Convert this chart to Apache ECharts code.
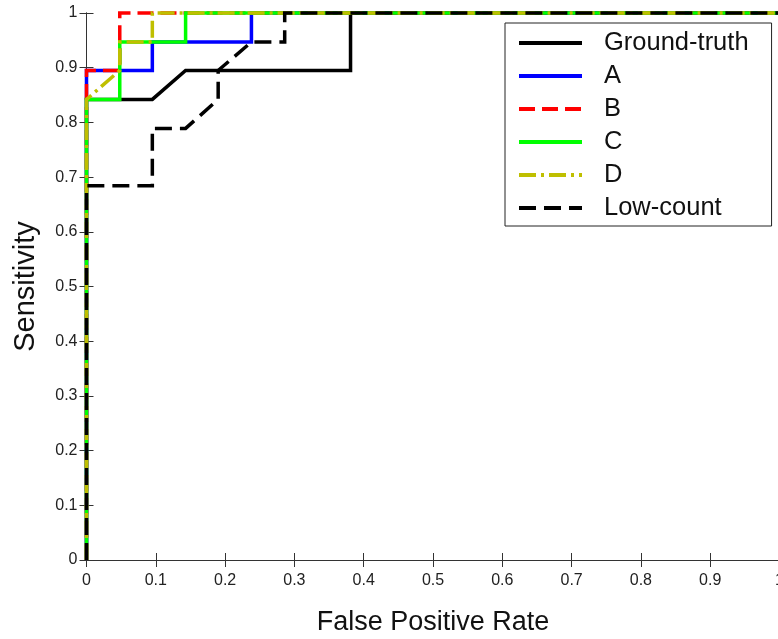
<!DOCTYPE html>
<html>
<head>
<meta charset="utf-8">
<script src="https://cdn.jsdelivr.net/npm/echarts@6/dist/echarts.min.js"></script>
<style>
  html, body { margin: 0; padding: 0; background: #fff; }
  #chart { width: 778px; height: 639px; }
</style>
</head>
<body>
<div id="chart"></div>
<script>
// ---- data ----
const seriesNames = ['Ground-truth', 'A', 'B', 'C', 'D', 'Low-count'];

const gtX  = [0, 0, 0.095, 0.143, 0.381, 0.381, 1];
const gtY  = [0, 0.842, 0.842, 0.895, 0.895, 1, 1];

const aX   = [0, 0, 0.095, 0.095, 0.238, 0.238, 1];
const aY   = [0, 0.895, 0.895, 0.947, 0.947, 1, 1];

const bX   = [0, 0, 0.048, 0.048, 1];
const bY   = [0, 0.895, 0.895, 1, 1];

const cX   = [0, 0, 0.048, 0.048, 0.143, 0.143, 1];
const cY   = [0, 0.842, 0.842, 0.947, 0.947, 1, 1];

const dX   = [0, 0, 0.048, 0.048, 0.095, 0.095, 1];
const dY   = [0, 0.842, 0.895, 0.947, 0.947, 1, 1];

const lowX = [0, 0, 0.095, 0.095, 0.143, 0.190, 0.190, 0.238, 0.286, 0.286, 1];
const lowY = [0, 0.684, 0.684, 0.789, 0.789, 0.842, 0.895, 0.947, 0.947, 1, 1];

const xTicks = [0, 0.1, 0.2, 0.3, 0.4, 0.5, 0.6, 0.7, 0.8, 0.9, 1];
const yTicks = [0, 0.1, 0.2, 0.3, 0.4, 0.5, 0.6, 0.7, 0.8, 0.9, 1];

// ---- build ----
const pairs = (xs, ys) => xs.map((x, i) => [x, ys[i]]);
const FONT = "'Liberation Sans', Arial, sans-serif";

const styles = [
  { color: '#000000', type: 'solid' },
  { color: '#0000ff', type: 'solid' },
  { color: '#ff0000', type: [16, 7] },
  { color: '#00ff00', type: 'solid' },
  { color: '#bfbf00', type: [17, 5, 3, 5] },
  { color: '#000000', type: [17, 8] }
];
const dataSets = [pairs(gtX, gtY), pairs(aX, aY), pairs(bX, bY), pairs(cX, cY), pairs(dX, dY), pairs(lowX, lowY)];

const series = seriesNames.map((name, i) => ({
  name: name,
  type: 'line',
  data: dataSets[i],
  symbol: 'none',
  clip: false,
  animation: false,
  color: styles[i].color,
  lineStyle: { color: styles[i].color, width: 3.5, type: styles[i].type, cap: 'butt', join: 'miter' },
  z: 2 + i
}));

const tickFmt = v => (Math.abs(v) < 1e-9 ? '0' : (Math.abs(v - 1) < 1e-9 ? '1' : String(Math.round(v * 10) / 10)));

const baseAxis = {
  type: 'value', min: 0, max: 1, interval: 0.1,
  axisLine: { show: true, lineStyle: { color: '#333', width: 1 } },
  axisTick: { show: true, inside: true, length: 7, lineStyle: { color: '#333', width: 1 } },
  splitLine: { show: false }
};

const chart = echarts.init(document.getElementById('chart'), null, { renderer: 'canvas' });
chart.setOption({
  animation: false,
  backgroundColor: '#ffffff',
  grid: { left: 86.5, top: 13, width: 693, height: 547, containLabel: false, outerBoundsMode: 'none' },
  xAxis: [
    Object.assign({}, baseAxis, {
      position: 'bottom',
      axisLabel: { show: true, fontFamily: FONT, fontSize: 16, color: '#222', margin: 13,
        formatter: v => tickFmt(v), customValues: xTicks },
      name: 'False Positive Rate', nameLocation: 'middle', nameGap: 49,
      nameTextStyle: { fontFamily: FONT, fontSize: 27, color: '#111' }
    }),
    Object.assign({}, baseAxis, { position: 'top', axisLabel: { show: false } })
  ],
  yAxis: [
    Object.assign({}, baseAxis, {
      position: 'left',
      axisLabel: { show: true, fontFamily: FONT, fontSize: 16, color: '#222', margin: 9,
        formatter: v => tickFmt(v), customValues: yTicks },
      name: 'Sensitivity', nameLocation: 'middle', nameGap: 46,
      nameTextStyle: { fontFamily: FONT, fontSize: 29, color: '#111' }
    }),
    Object.assign({}, baseAxis, { position: 'right', axisLabel: { show: false } })
  ],
  legend: {
    data: seriesNames,
    orient: 'vertical',
    left: 505, top: 23,
    padding: [7, 23, 5, 12],
    itemGap: 7,
    itemWidth: 63,
    itemHeight: 14,
    backgroundColor: '#ffffff',
    borderColor: '#222',
    borderWidth: 1,
    borderRadius: 0,
    textStyle: { fontFamily: FONT, fontSize: 25.5, color: '#111', lineHeight: 25, padding: [0, 0, 0, 17] },
    itemStyle: { opacity: 0 },
    lineStyle: { width: 4 }
  },
  series: series
});
</script>
</body>
</html>
